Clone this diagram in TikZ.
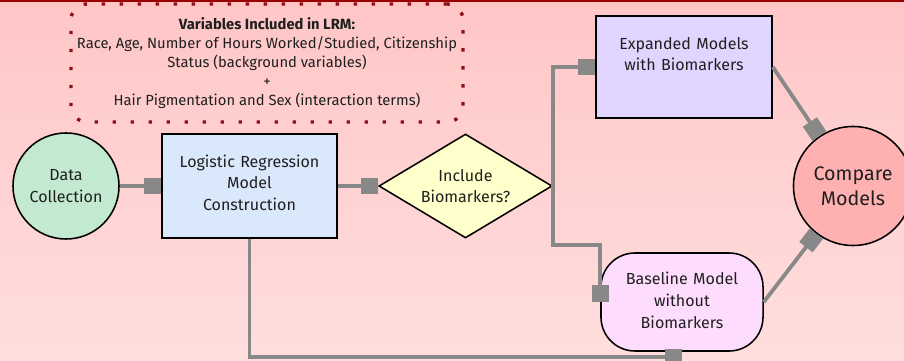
\documentclass[tikz,border=0pt]{standalone}
\usepackage{fontspec}
\setmainfont{Fira Sans}
\usetikzlibrary{shapes.geometric,arrows.meta}

\definecolor{bgtop}{HTML}{FFC6C6}
\definecolor{bgbottom}{HTML}{FFDEDE}
\definecolor{barred}{HTML}{990000}
\definecolor{dotred}{HTML}{8E0F14}
\definecolor{linkgray}{HTML}{888888}
\definecolor{collectgreen}{HTML}{C3E9D0}
\definecolor{modelblue}{HTML}{DAE8FC}
\definecolor{choiceyellow}{HTML}{FFFFCC}
\definecolor{expandpurple}{HTML}{E1D5FF}
\definecolor{basepink}{HTML}{FDDCFD}
\definecolor{comparered}{HTML}{FFB0B0}

\begin{document}
\begin{tikzpicture}[
        x=0.025cm, y=-0.025cm,
        font=\fontsize{11.4}{15.5}\selectfont,
        text=black!88,
        stage/.style ={draw, line width=1.1pt, circle, inner sep=0pt, align=center},
        modelbox/.style ={draw, line width=1.1pt, inner sep=0pt, align=center, text height=0.83cm},
        choice/.style ={draw, line width=1.1pt, diamond, aspect=1.66, inner sep=1pt, align=center,
            minimum width=4.33cm, minimum height=2.6cm, fill=choiceyellow},
        note/.style ={draw=dotred, line width=2.4pt, dash pattern=on 2.4pt off 10.4pt, rounded corners=0.4cm,
            align=center, font=\fontsize{10.5}{13.6}\selectfont, minimum width=9.8cm, minimum height=2.95cm},
        link/.style ={draw=linkgray, line width=2.7pt, -{Square[length=12pt,width=12pt,fill=linkgray]}},
    ]
    \useasboundingbox (0,0) rectangle (904,361);
    \shade[top color=bgtop, bottom color=bgbottom] (0,0) rectangle (904,361);
    \fill[barred] (0,0) rectangle (904,2.5);

    \node[note] (vars) at (267,63) {{\bfseries Variables Included in LRM:}\\
        Race, Age, Number of Hours Worked/Studied, Citizenship\\
        Status (background variables)\\
        +\\
        Hair Pigmentation and Sex (interaction terms)};

    \node[stage, fill=collectgreen, minimum size=2.65cm] (data) at (66,186) {Data\\Collection};
    \node[modelbox, fill=modelblue, minimum width=4.375cm, text width=4.2cm, text depth=1.77cm] (lrm) at (249.5,186)
        {Logistic Regression\\Model\\Construction};
    \node[choice] (dia) at (465.5,186) {Include\\Biomarkers?};
    \node[modelbox, fill=expandpurple, minimum width=4.4cm, text width=4.2cm, text depth=1.72cm] (exp) at (684,67)
        {Expanded Models\\with Biomarkers};
    \node[modelbox, fill=basepink, rounded corners=0.85cm, minimum width=4.05cm, text width=3.9cm,
        text height=0.8cm, text depth=1.65cm] (base) at (682,302)
        {Baseline Model\\without\\Biomarkers};
    \node[stage, fill=comparered, minimum size=2.975cm, font=\fontsize{14}{17.5}\selectfont] (cmp) at (853,186)
        {Compare\\Models};

    \draw[link] (data) -- (lrm);
    \draw[link] (lrm) -- (dia);
    \draw[link] (dia.east) |- (exp.west);
    \draw[link] (dia.east) -- ++(0,59) -| (base.west);
    \draw[link] (lrm.south) |- ([yshift=-1.3mm]base.south);
    \draw[link] (exp.east) -- (cmp);
    \draw[link] (base.east) -- (cmp);

\end{tikzpicture}
\end{document}
